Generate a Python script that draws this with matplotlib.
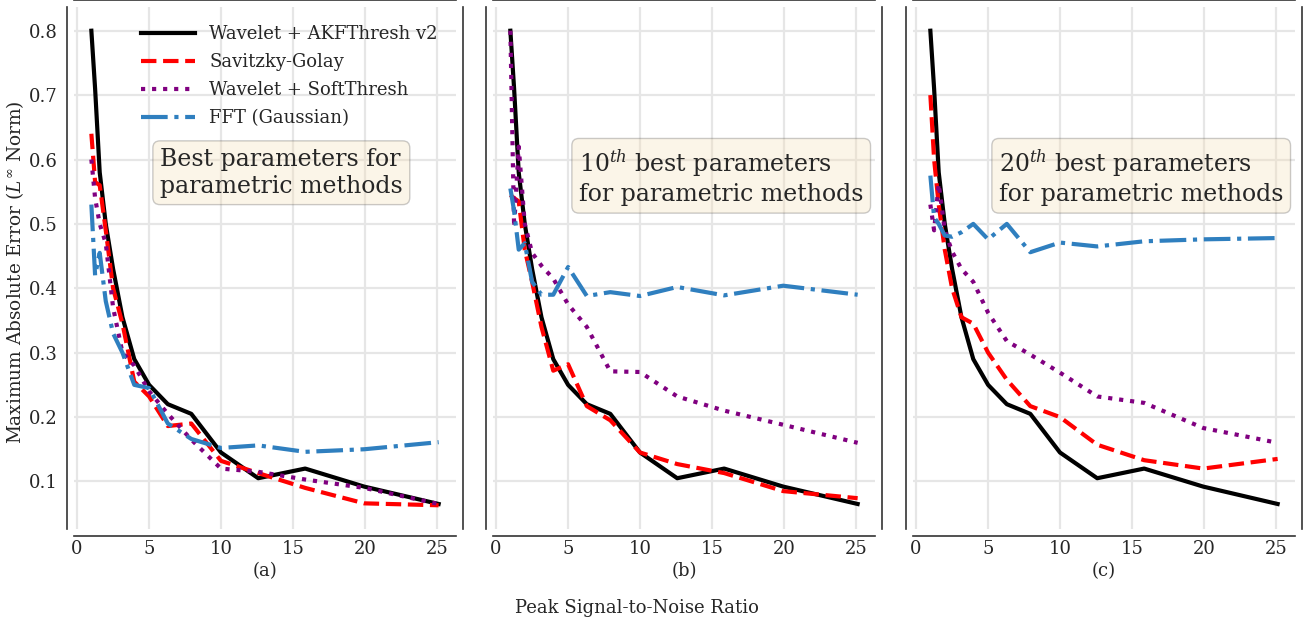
import matplotlib
matplotlib.use("Agg")
import matplotlib.pyplot as plt

plt.rcParams['font.family'] = ['DejaVu Serif']
plt.rcParams['mathtext.fontset'] = 'dejavuserif'
plt.rcParams['text.color'] = '#262626'
plt.rcParams['axes.labelcolor'] = '#262626'
plt.rcParams['xtick.color'] = '#262626'
plt.rcParams['ytick.color'] = '#262626'

psnr = [1.0, 1.26, 1.58, 2.0, 2.51, 3.16, 3.98, 5.01, 6.31, 7.94, 10.0, 12.59, 15.85, 19.95, 25.12]

akf = [0.80, 0.71, 0.58, 0.50, 0.43, 0.355, 0.29, 0.25, 0.22, 0.205, 0.145, 0.105, 0.12, 0.092, 0.065]

sg_a = [0.64, 0.565, 0.56, 0.49, 0.40, 0.345, 0.255, 0.232, 0.186, 0.19, 0.132, 0.113, 0.09, 0.066, 0.063]
soft_a = [0.60, 0.54, 0.50, 0.47, 0.37, 0.30, 0.28, 0.24, 0.205, 0.165, 0.12, 0.115, 0.103, 0.09, 0.065]
fft_a = [0.53, 0.42, 0.455, 0.38, 0.33, 0.30, 0.25, 0.245, 0.19, 0.166, 0.152, 0.156, 0.146, 0.150, 0.161]

sg_b = [0.545, 0.54, 0.535, 0.46, 0.41, 0.34, 0.272, 0.282, 0.217, 0.195, 0.145, 0.127, 0.113, 0.085, 0.074]
soft_b = [0.80, 0.495, 0.62, 0.50, 0.455, 0.435, 0.415, 0.375, 0.34, 0.271, 0.27, 0.232, 0.21, 0.188, 0.16]
fft_b = [0.555, 0.52, 0.46, 0.47, 0.41, 0.39, 0.39, 0.433, 0.388, 0.394, 0.388, 0.402, 0.389, 0.404, 0.39]

sg_c = [0.70, 0.60, 0.53, 0.46, 0.40, 0.355, 0.345, 0.30, 0.258, 0.217, 0.20, 0.157, 0.133, 0.12, 0.135]
soft_c = [0.53, 0.49, 0.562, 0.49, 0.457, 0.43, 0.41, 0.362, 0.318, 0.297, 0.269, 0.232, 0.222, 0.183, 0.16]
fft_c = [0.575, 0.51, 0.50, 0.482, 0.48, 0.487, 0.50, 0.476, 0.50, 0.456, 0.471, 0.465, 0.473, 0.476, 0.478]

labels = ["Wavelet + AKFThresh v2", "Savitzky-Golay", "Wavelet + SoftThresh", "FFT (Gaussian)"]
panel_tags = ["(a)", "(b)", "(c)"]
box_texts = ["Best parameters for\nparametric methods",
             "$10^{th}$ best parameters\nfor parametric methods",
             "$20^{th}$ best parameters\nfor parametric methods"]
xticks = [0, 5, 10, 15, 20, 25]
yticks = [0.1, 0.2, 0.3, 0.4, 0.5, 0.6, 0.7, 0.8]

panels = [(sg_a, soft_a, fft_a), (sg_b, soft_b, fft_b), (sg_c, soft_c, fft_c)]

fig = plt.figure(figsize=(13.09, 6.28), dpi=100)
lefts = [74 / 1309, 493 / 1309, 913 / 1309]
w = 382 / 1309
b = 1 - 529 / 628
h = 522 / 628
axes = []
for i, l in enumerate(lefts):
    ax = fig.add_axes([l, b, w, h], sharey=axes[0] if axes else None)
    axes.append(ax)

for i, ax in enumerate(axes):
    sg, soft, fft = panels[i]
    ax.plot(psnr, akf, color='black', lw=3, ls='-', label=labels[0], zorder=3)
    ax.plot(psnr, sg, color='red', lw=3, ls='--', label=labels[1], zorder=3)
    ax.plot(psnr, soft, color='purple', lw=3, ls=':', label=labels[2], zorder=3)
    ax.plot(psnr, fft, color='#2f7fbf', lw=3, ls='-.', label=labels[3], zorder=3)
    ax.set_xticks(xticks)
    ax.set_yticks(yticks)
    ax.grid(True, color='#e6e6e6', lw=1.6, zorder=0)
    ax.set_axisbelow(True)
    for s in ax.spines.values():
        s.set_position(('outward', 5))
        s.set_color('#333333')
        s.set_linewidth(1.2)
    ax.tick_params(length=0, labelsize=13)
    ax.tick_params(axis='x', pad=3)
    ax.tick_params(axis='y', pad=7)
    ax.set_xlabel(panel_tags[i], fontsize=13, labelpad=3)
    if i > 0:
        ax.tick_params(labelleft=False)
    ax.text(0.225, 0.73, box_texts[i], transform=ax.transAxes, fontsize=17,
            va='top', ha='left', linespacing=1.2,
            bbox=dict(boxstyle='round,pad=0.3', facecolor='wheat', alpha=0.3, edgecolor='#555555'))

fig.text(15 / 1309, 1 - 272 / 628, "Maximum Absolute Error ($L^\\infty$ Norm)", rotation=90,
         ha='center', va='center', fontsize=13.3)
axes[0].legend(loc='upper right', frameon=False, fontsize=13, handlelength=3.0,
               borderaxespad=0.6, labelspacing=0.55, bbox_to_anchor=(1.0, 1.0))
fig.text(637 / 1309, 1 - 608 / 628, "Peak Signal-to-Noise Ratio", ha='center', va='center', fontsize=13)

fig.savefig("out.png", dpi=100)
